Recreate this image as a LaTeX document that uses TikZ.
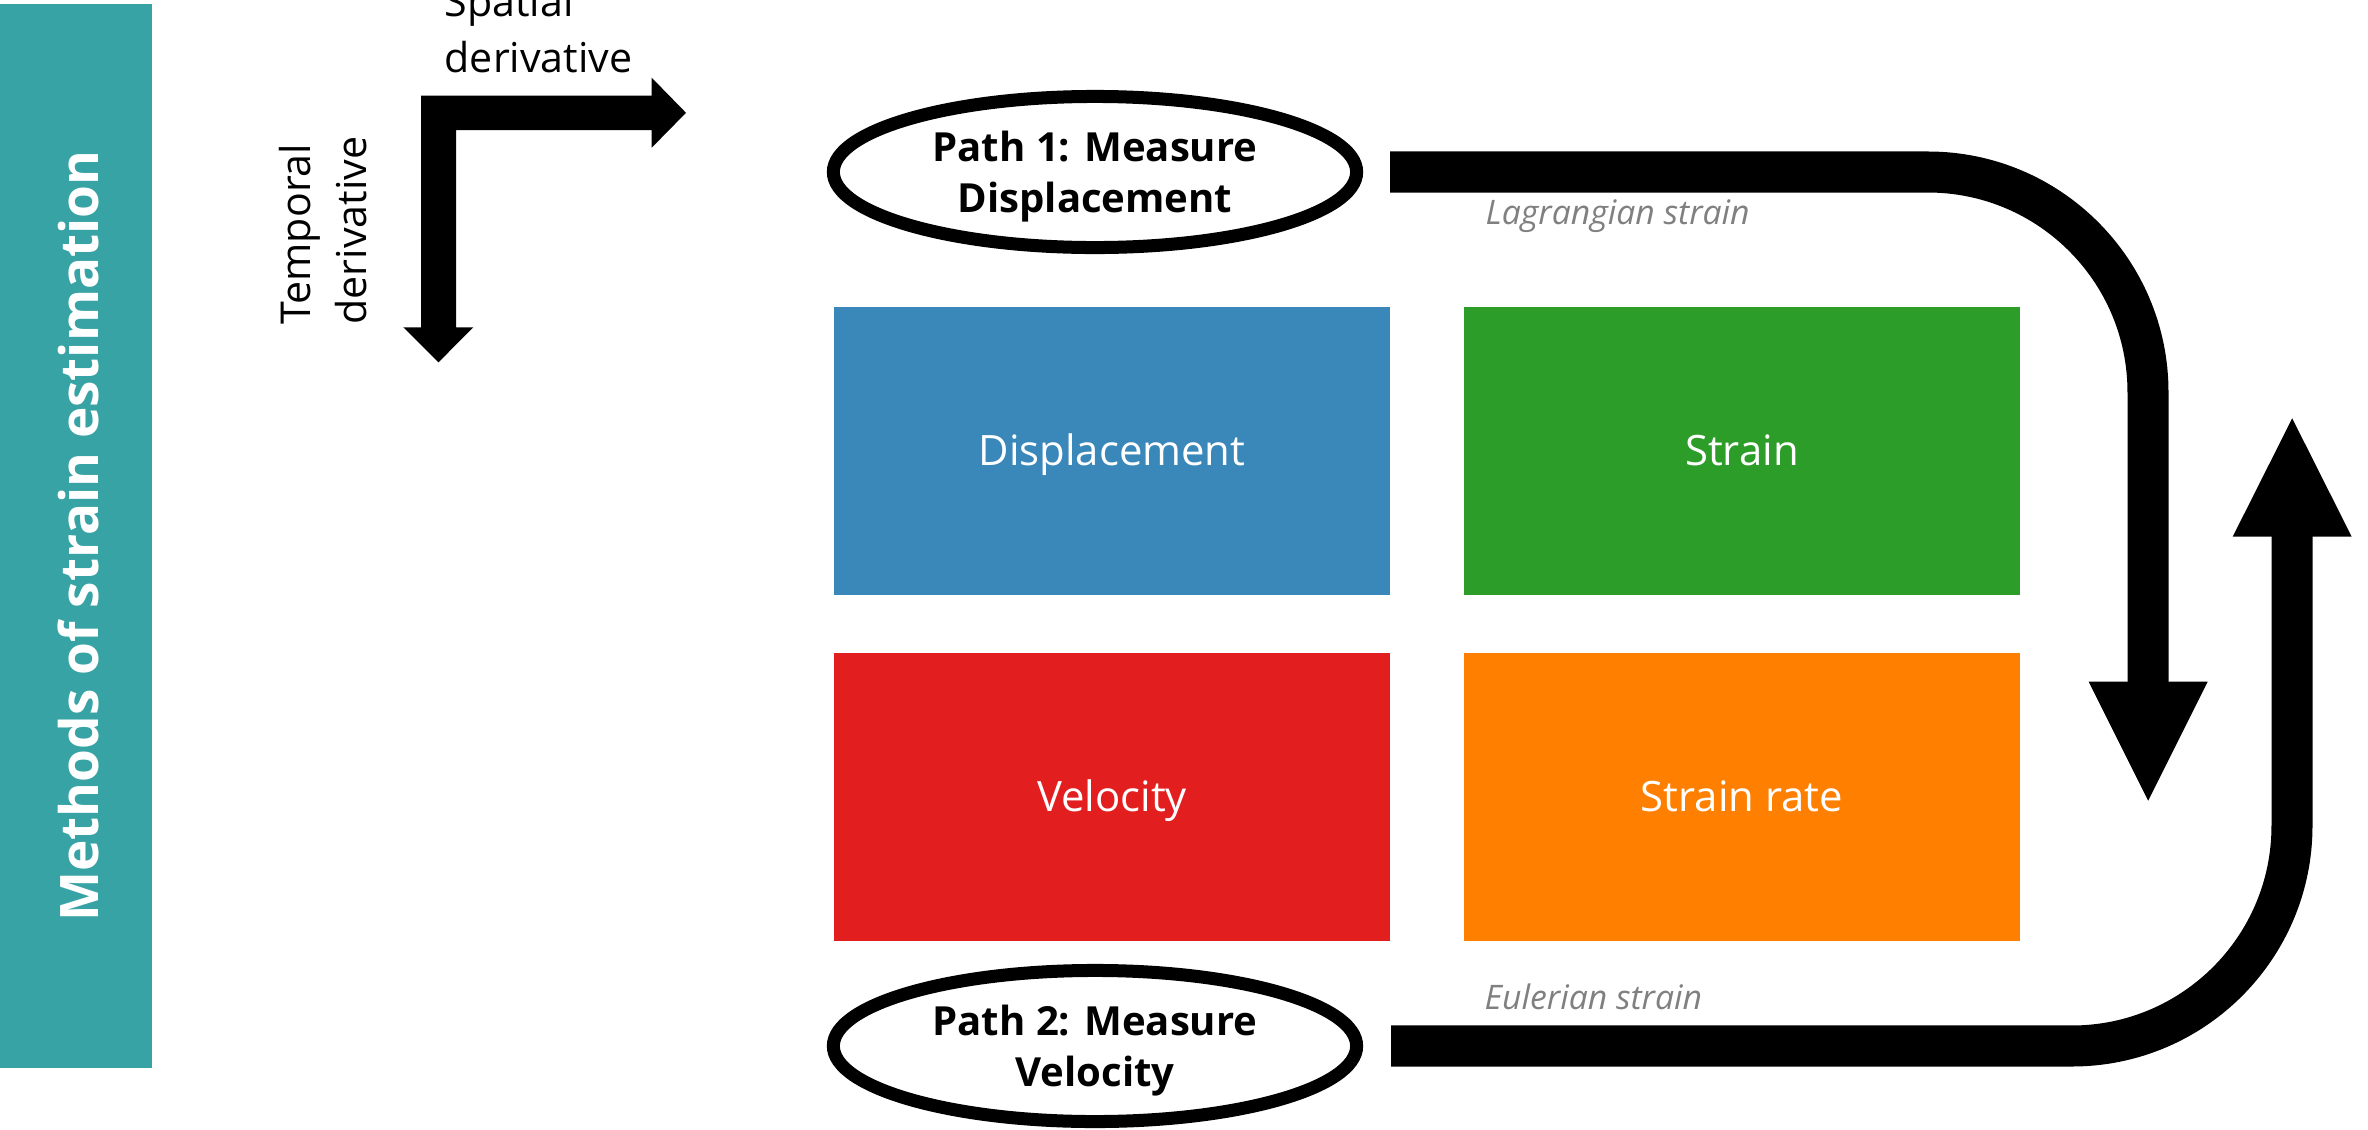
\documentclass[tikz,border=0pt]{standalone}
\usepackage{fontspec}
\setmainfont{Open Sans}
\usetikzlibrary{shapes.geometric}
\definecolor{tealbar}{HTML}{38A3A5}
\definecolor{cblue}{HTML}{3A87BA}
\definecolor{cgreen}{HTML}{2C9D28}
\definecolor{cred}{HTML}{E31E1F}
\definecolor{corange}{HTML}{FF7F00}
\definecolor{labgray}{HTML}{808080}
\begin{document}
\begin{tikzpicture}[x=0.01cm, y=-0.01cm,
 quantity/.style={rectangle, inner sep=0pt, minimum width=5.56cm, minimum height=2.88cm, text=white, text height=0.295cm, text depth=0pt, font=\fontsize{11.9pt}{15pt}\selectfont},
 pathell/.style={ellipse, draw=black, line width=0.13cm, inner sep=0pt, minimum width=5.23cm, minimum height=1.51cm, align=center, text depth=0pt, font=\fontsize{11.4pt}{14.5pt}\selectfont\bfseries},
 flow/.style={draw=black, line width=0.41cm, rounded corners=2.2cm},
 strainlab/.style={text=labgray, font=\fontsize{9.6pt}{11pt}\selectfont\itshape, inner sep=0pt, anchor=base west},
 axlab/.style={font=\fontsize{11.7pt}{15.9pt}\selectfont, inner sep=0pt, align=left},
]
\useasboundingbox (0,0) rectangle (2368,1130);
% side bar
\fill[tealbar] (0,4) rectangle (152,1068);
\node[rotate=90, text=white, font=\fontsize{15.1pt}{18pt}\selectfont\bfseries, inner sep=0pt] (title) at (78,536) {Methods of strain estimation};
% legend L-arrow
\fill[black] (421,95.7) -- (651.7,95.7) -- (651.7,77.7) -- (686,112.8) -- (651.7,147.7) -- (651.7,130) -- (456,130) -- (456,327.3) -- (473.3,327.3) -- (438.5,362.3) -- (403.3,327.3) -- (421,327.3) -- cycle;
\node[axlab, anchor=south west] (spatial) at (444,74) {Spatial\\derivative};
\node[axlab, rotate=90, anchor=south west] (temporal) at (368,325) {Temporal\\derivative};
% quantity boxes
\node[quantity, fill=cblue] (disp) at (1112,451) {Displacement};
\node[quantity, fill=cgreen] (strain) at (1742,451) {Strain};
\node[quantity, fill=cred] (vel) at (1112,797) {Velocity};
\node[quantity, fill=corange] (srate) at (1742,797) {Strain rate};
% paths
\node[pathell] (p1) at (1095,172) {Path 1: Measure\\Displacement};
\node[pathell] (p2) at (1095,1046) {Path 2: Measure\\Velocity};
\coordinate (t1) at (2148,172);
\coordinate (t2) at (2148,690);
\draw[flow] ([xshift=0.27cm]p1.east) -- (t1) -- (t2);
\fill[black] (2088.7,681.7) -- (2207.7,681.7) -- (2148.2,800.7) -- cycle;
\coordinate (b1) at (2292,1046);
\coordinate (b2) at (2292,528);
\draw[flow] ([xshift=0.28cm]p2.east) -- (b1) -- (b2);
\fill[black] (2232.7,536.7) -- (2351.7,536.7) -- (2292.2,418.3) -- cycle;
\node[strainlab] (lag) at (1485,224) {Lagrangian strain};
\node[strainlab] (eul) at (1484,1009) {Eulerian strain};
\end{tikzpicture}
\end{document}
